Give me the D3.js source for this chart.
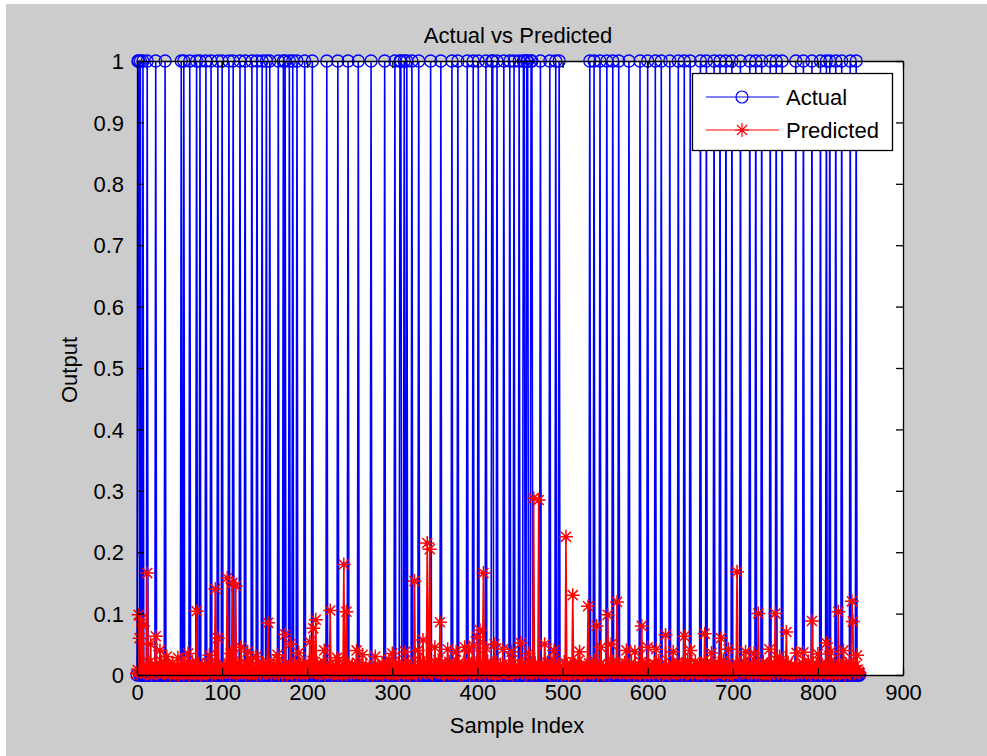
<!DOCTYPE html>
<html>
<head>
<meta charset="utf-8">
<script src="https://cdn.jsdelivr.net/npm/d3@7"></script>
<style>
  html, body { margin: 0; padding: 0; background: #ffffff; }
  svg text { font-family: "Liberation Sans", Arial, sans-serif; fill: #000; }
</style>
</head>
<body>
<div id="chart"></div>
<script>
// sample indices where the actual output is 1 (all others are 0)
var actualOnes = [1, 2, 4, 7, 12, 22, 33, 52, 55, 62, 70, 74, 81, 87, 95, 100, 108, 113,
  121, 127, 135, 141, 147, 152, 156, 166, 172, 174, 179, 183, 188, 197, 206, 223,
  236, 248, 260, 275, 291, 303, 309, 310, 314, 317, 323, 331, 345, 357, 370, 377,
  388, 395, 401, 410, 417, 418, 423, 431, 438, 443, 449, 454, 455, 458, 459, 463,
  464, 474, 485, 492, 496, 532, 537, 544, 552, 559, 566, 578, 591, 600, 609, 616,
  626, 636, 643, 650, 662, 669, 678, 685, 692, 699, 709, 720, 727, 734, 744, 751,
  758, 774, 783, 793, 803, 810, 814, 821, 828, 838, 845];

// predicted output, low-level values in thousandths, 25 per row (850 samples)
var predictedBase = [
  3,8,2,14,5,1,9,18,4,6,2,11,7,3,20,5,9,1,12,6,4,15,3,8,2,
  10,5,1,7,22,4,9,3,13,6,2,8,17,5,1,11,4,19,7,3,9,2,14,6,1,
  8,12,3,5,24,2,7,10,4,16,6,1,9,13,3,21,5,8,2,11,7,4,18,3,6,
  1,9,14,5,3,12,7,2,20,4,8,11,6,1,15,9,3,23,5,7,2,10,13,4,8,
  6,2,17,9,4,11,3,19,7,1,12,5,8,22,3,6,14,2,9,16,4,7,1,13,5,
  3,10,6,1,18,8,4,13,2,25,7,5,11,3,9,16,1,6,20,4,10,2,14,8,3,
  12,4,7,21,2,9,15,5,1,11,6,18,3,8,13,4,24,2,7,10,5,1,16,9,3,
  7,1,13,4,10,19,3,6,2,14,8,22,5,1,11,7,3,17,9,4,12,2,6,20,5,
  2,15,8,3,11,5,23,1,9,6,13,4,18,7,2,10,14,3,8,21,5,1,12,6,9,
  9,4,19,6,1,12,8,3,16,5,10,2,24,7,4,13,1,9,15,3,6,11,2,18,7,
  4,11,2,17,7,3,14,9,1,20,5,8,12,2,6,23,4,10,3,15,7,1,9,13,5,
  13,6,1,10,4,22,8,2,15,5,11,3,7,19,1,9,14,4,6,12,2,25,8,3,10,
  5,2,16,8,12,3,7,20,1,10,6,14,4,9,2,17,11,5,3,21,8,1,13,7,4,
  8,18,3,6,1,13,9,4,22,2,7,11,5,16,3,10,1,19,6,12,4,8,2,14,9,
  1,7,12,4,24,6,2,10,15,3,8,1,18,5,11,4,9,21,2,7,13,3,6,16,5,
  11,3,9,20,5,1,14,7,2,12,17,4,8,3,23,6,1,10,15,4,9,2,19,5,7,
  6,14,2,8,11,4,18,3,9,1,13,7,22,5,2,10,6,16,3,12,8,1,20,4,9,
  3,9,15,1,7,21,5,10,4,13,2,8,17,6,3,11,24,1,9,5,14,7,2,12,6,
  10,2,6,18,3,12,8,1,16,5,9,23,4,7,14,2,11,6,19,3,8,13,1,10,4,
  7,13,4,9,2,15,6,20,3,11,1,8,14,5,25,9,3,12,7,2,17,4,10,6,1,
  4,8,21,2,10,5,13,1,7,18,3,12,6,9,2,16,4,11,22,5,8,1,14,3,9,
  12,5,1,15,7,3,19,9,4,11,6,2,24,8,13,3,7,1,10,17,5,9,2,13,6,
  2,10,7,4,17,1,8,12,5,22,3,9,6,14,1,11,18,4,7,2,15,10,3,20,8,
  9,3,14,6,2,11,20,5,8,1,16,4,10,7,3,13,2,21,9,6,12,4,1,17,5,
  5,16,2,9,13,4,7,1,18,10,3,12,6,23,2,8,15,5,1,11,7,19,4,9,3,
  11,1,8,19,5,14,3,10,6,2,21,7,4,12,9,1,17,6,3,13,8,2,24,5,10,
  3,12,6,1,15,8,22,4,9,2,11,5,18,3,7,14,1,10,6,20,4,12,8,2,16,
  8,4,17,10,2,6,13,1,19,5,9,3,14,7,24,2,11,5,8,1,16,9,3,12,6,
  1,14,5,7,20,3,10,15,2,8,12,4,6,22,9,1,13,5,17,3,7,11,2,18,4,
  13,6,2,11,4,18,7,1,9,16,3,21,5,10,2,14,8,4,12,1,19,6,9,3,15,
  4,9,23,3,8,1,12,6,17,2,10,5,14,7,1,20,4,11,3,16,6,9,2,13,8,
  10,2,7,15,5,12,3,19,1,8,14,4,11,6,22,3,9,1,16,7,5,12,2,18,6,
  6,11,3,9,1,17,5,13,8,2,20,4,10,15,3,7,24,1,12,6,9,2,14,5,8,
  2,7,16,4,12,3,9,1,18,6,11,5,21,2,8,13,4,10,3,15,7,1,9,5,3
];

// larger predicted values: [sample index, value in thousandths]
var predictedPeaks = [
  [2, 98], [3, 60], [5, 90], [7, 80], [12, 166], [16, 50], [22, 63], [27, 40],
  [35, 30], [48, 28], [60, 35], [70, 104], [85, 32], [92, 140], [95, 60],
  [106, 158], [110, 35], [112, 150], [116, 145], [122, 45], [130, 38], [140, 30],
  [154, 85], [165, 33], [174, 66], [180, 50], [190, 36], [203, 54], [207, 76],
  [210, 90], [220, 40], [227, 105], [235, 28], [243, 180], [246, 103], [258, 40],
  [265, 33], [280, 30], [300, 35], [315, 38], [326, 153], [330, 40], [336, 57],
  [341, 215], [344, 205], [350, 45], [356, 86], [365, 42], [375, 38], [385, 45],
  [390, 40], [395, 48], [400, 62], [403, 73], [407, 166], [410, 44], [420, 50],
  [430, 42], [440, 38], [451, 52], [460, 35], [466, 288], [472, 285], [479, 50],
  [490, 40], [504, 225], [512, 130], [520, 38], [530, 112], [540, 80], [545, 45],
  [553, 98], [557, 50], [564, 119], [575, 40], [585, 38], [593, 80], [600, 45],
  [610, 42], [621, 65], [630, 38], [643, 63], [650, 40], [667, 67], [675, 36],
  [686, 60], [695, 42], [705, 168], [715, 38], [725, 35], [730, 100], [743, 42],
  [750, 100], [755, 30], [763, 70], [775, 36], [783, 37], [793, 88], [800, 34],
  [810, 52], [815, 38], [824, 103], [830, 40], [840, 120], [841, 87], [846, 32]
];

var xTicks = [0, 100, 200, 300, 400, 500, 600, 700, 800, 900];
var yTicks = [0, 0.1, 0.2, 0.3, 0.4, 0.5, 0.6, 0.7, 0.8, 0.9, 1];
var seriesNames = ["Actual", "Predicted"];

(function () {
  var W = 987, H = 756;
  var mLeft = 137, mRight = 903, mTop = 61, mBottom = 675;

  var onesSet = new Set(actualOnes);
  var peakMap = new Map(predictedPeaks);
  var actual = predictedBase.map(function (d, i) { return onesSet.has(i) ? 1 : 0; });
  var predicted = predictedBase.map(function (d, i) {
    return (peakMap.has(i) ? peakMap.get(i) : d) / 1000;
  });

  var x = d3.scaleLinear().domain([0, 900]).range([mLeft, mRight]);
  var y = d3.scaleLinear().domain([0, 1]).range([mBottom, mTop]);

  var svg = d3.select("#chart").append("svg")
    .attr("width", W).attr("height", H);

  // figure background
  svg.append("rect").attr("x", 6).attr("y", 4)
    .attr("width", W - 6).attr("height", H - 4).attr("fill", "#cccccc");

  // axes area
  svg.append("rect").attr("x", mLeft).attr("y", mTop)
    .attr("width", mRight - mLeft).attr("height", mBottom - mTop).attr("fill", "#ffffff");

  var line = d3.line()
    .x(function (d, i) { return x(i); })
    .y(function (d) { return y(d); });

  // actual series
  var gA = svg.append("g");
  gA.append("path").datum(actual)
    .attr("d", line).attr("fill", "none")
    .attr("stroke", "#0000ff").attr("stroke-width", 1.6);
  gA.selectAll("circle").data(actual).enter().append("circle")
    .attr("cx", function (d, i) { return x(i); })
    .attr("cy", function (d) { return y(d); })
    .attr("r", 6)
    .attr("fill", "none").attr("stroke", "#0000ff").attr("stroke-width", 1.3);

  // asterisk marker
  function star(cx, cy, r) {
    var a = r * 0.72;
    return "M" + (cx - r) + "," + cy + "H" + (cx + r) +
      "M" + cx + "," + (cy - r) + "V" + (cy + r) +
      "M" + (cx - a) + "," + (cy - a) + "L" + (cx + a) + "," + (cy + a) +
      "M" + (cx - a) + "," + (cy + a) + "L" + (cx + a) + "," + (cy - a);
  }

  // predicted series
  var gP = svg.append("g");
  gP.append("path").datum(predicted)
    .attr("d", line).attr("fill", "none")
    .attr("stroke", "#ff0000").attr("stroke-width", 1.6);
  gP.append("path")
    .attr("d", predicted.map(function (d, i) { return star(x(i), y(d), 7); }).join(""))
    .attr("fill", "none").attr("stroke", "#ff0000").attr("stroke-width", 1.5);

  // axes with inward ticks (box on)
  var tickLen = 7;
  var axB = svg.append("g").attr("transform", "translate(0," + mBottom + ")")
    .call(d3.axisBottom(x).tickValues(xTicks).tickSize(-tickLen).tickSizeOuter(0)
      .tickFormat(d3.format("d")));
  var axT = svg.append("g").attr("transform", "translate(0," + mTop + ")")
    .call(d3.axisTop(x).tickValues(xTicks).tickSize(-tickLen).tickSizeOuter(0)
      .tickFormat(""));
  var axL = svg.append("g").attr("transform", "translate(" + mLeft + ",0)")
    .call(d3.axisLeft(y).tickValues(yTicks).tickSize(-tickLen).tickSizeOuter(0)
      .tickFormat(function (d) { return d === 0 || d === 1 ? d3.format("d")(d) : d3.format(".1f")(d); }));
  var axR = svg.append("g").attr("transform", "translate(" + mRight + ",0)")
    .call(d3.axisRight(y).tickValues(yTicks).tickSize(-tickLen).tickSizeOuter(0)
      .tickFormat(""));

  [axB, axT, axL, axR].forEach(function (g) {
    g.attr("font-family", null).attr("font-size", null);
    g.selectAll(".domain").attr("stroke", "#000").attr("stroke-width", 1.3);
    g.selectAll(".tick line").attr("stroke", "#000").attr("stroke-width", 1.3);
    g.selectAll("text").attr("font-size", 22).attr("fill", "#000");
  });
  axB.selectAll(".tick text").attr("dy", "0.9em").attr("y", 5);
  axL.selectAll(".tick text").attr("x", -13).attr("dy", "0.35em");

  // title and axis labels
  svg.append("text").attr("x", 518).attr("y", 43)
    .attr("text-anchor", "middle").attr("font-size", 22).text("Actual vs Predicted");
  svg.append("text").attr("x", 517).attr("y", 733)
    .attr("text-anchor", "middle").attr("font-size", 22).text("Sample Index");
  svg.append("text").attr("transform", "translate(77,370) rotate(-90)")
    .attr("text-anchor", "middle").attr("font-size", 22).text("Output");

  // legend
  var lg = svg.append("g");
  lg.append("rect").attr("x", 692.5).attr("y", 73.5).attr("width", 200).attr("height", 77)
    .attr("fill", "#ffffff").attr("stroke", "#000").attr("stroke-width", 1.3);
  var colors = ["#0000ff", "#ff0000"];
  seriesNames.forEach(function (name, i) {
    var ly = 97 + i * 33;
    lg.append("line").attr("x1", 706).attr("x2", 779).attr("y1", ly).attr("y2", ly)
      .attr("stroke", colors[i]).attr("stroke-width", 1.2);
    if (i === 0) {
      lg.append("circle").attr("cx", 742).attr("cy", ly).attr("r", 6)
        .attr("fill", "none").attr("stroke", colors[i]).attr("stroke-width", 1.2);
    } else {
      lg.append("path").attr("d", star(742, ly, 7))
        .attr("fill", "none").attr("stroke", colors[i]).attr("stroke-width", 1.2);
    }
    lg.append("text").attr("x", 786).attr("y", ly + 8).attr("font-size", 22).text(name);
  });
})();
</script>
</body>
</html>
